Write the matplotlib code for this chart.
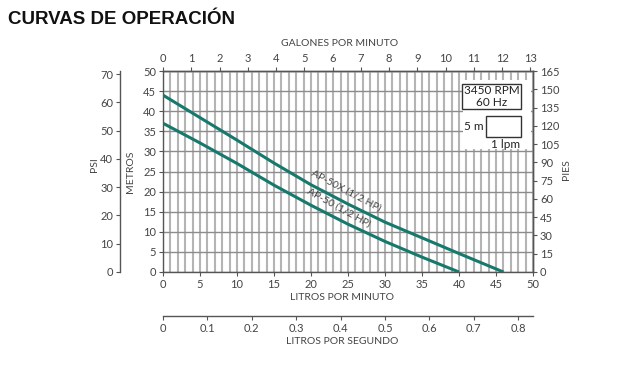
import matplotlib
matplotlib.use("Agg")
from matplotlib import pyplot as plt
from matplotlib.patches import Rectangle

# caudal en litros por minuto, carga en metros
lpm_50x = [0, 5, 10, 15, 20, 25, 30, 35, 40, 46]
m_50x = [44, 38.4, 32.8, 27.1, 21.7, 16.9, 12.4, 8.5, 4.6, 0]
lpm_50 = [0, 5, 10, 15, 20, 25, 30, 35, 40]
m_50 = [37, 32.1, 27.0, 21.6, 16.6, 11.9, 7.6, 3.7, 0]

gpm_ticks = list(range(0, 14))
ft_ticks = list(range(0, 166, 15))
psi_ticks = list(range(0, 71, 10))
lps_ticks = [0, 0.1, 0.2, 0.3, 0.4, 0.5, 0.6, 0.7, 0.8]

plt.rcParams['font.family'] = ['Lato', 'DejaVu Sans']
txt = '#444444'
spc = '#555555'
teal = '#17786c'

W, H = 629, 369
fig = plt.figure(figsize=(W / 100, H / 100), dpi=100)

def fx(px):
    return px / W

def fy(py):
    return 1 - py / H

ax = fig.add_axes([fx(163), fy(272), fx(533) - fx(163), fy(71) - fy(272)])
ax.set_xlim(0, 50)
ax.set_ylim(0, 50)
ax.set_xticks(range(0, 51, 5))
ax.set_xticks(range(0, 51), minor=True)
ax.set_yticks(range(0, 51, 5))
ax.set_axisbelow(True)
ax.grid(which='both', axis='x', color='#b4b4b4', lw=1.5)
ax.grid(which='major', axis='y', color='#8c8c8c', lw=1.0)
ax.tick_params(which='minor', length=0)
ax.tick_params(which='major', direction='out', length=3, color=spc, labelsize=8, labelcolor=txt, pad=2)
for s in ax.spines.values():
    s.set_color(spc)
    s.set_linewidth(1.0)

# zona blanca de la leyenda
ax.add_patch(Rectangle((40.5, 30.7), 9.2, 17.1, facecolor='white', edgecolor='none', zorder=1))
ax.add_patch(Rectangle((40.4, 40.6), 8.0, 6.2, facecolor='white', edgecolor='#333333', lw=1.0, zorder=2))
ax.text(44.4, 45.1, '3450 RPM', ha='center', va='center', fontsize=8.5, color='#222222', zorder=3)
ax.text(44.4, 42.2, '60 Hz', ha='center', va='center', fontsize=8.5, color='#222222', zorder=3)
ax.add_patch(Rectangle((43.6, 33.7), 4.8, 5.2, facecolor='white', edgecolor='#333333', lw=1.0, zorder=2))
ax.text(43.3, 36.3, '5 m', ha='right', va='center', fontsize=8.5, color='#222222', zorder=3)
ax.text(46.3, 31.8, '1 lpm', ha='center', va='center', fontsize=8.5, color='#222222', zorder=3)

ax.plot(lpm_50x, m_50x, color=teal, lw=2.2, zorder=4, solid_capstyle='butt')
ax.plot(lpm_50, m_50, color=teal, lw=2.2, zorder=4, solid_capstyle='butt')
ax.text(24.7, 20.2, 'AP-50X (1/2 HP)', rotation=-28, ha='center', va='center',
        fontsize=7.5, color=txt, zorder=5, rotation_mode='anchor')
ax.text(23.7, 15.9, 'AP-50 (1/2 HP)', rotation=-29, ha='center', va='center',
        fontsize=7.5, color=txt, zorder=5, rotation_mode='anchor')

# ejes secundarios
top = ax.secondary_xaxis('top', functions=(lambda x: x / 3.82, lambda g: g * 3.82))
top.set_xticks(gpm_ticks)
right = ax.secondary_yaxis('right', functions=(lambda m: m * 3.3, lambda f: f / 3.3))
right.set_yticks(ft_ticks)
psi = ax.secondary_yaxis(-0.116, functions=(lambda m: m / 0.703, lambda p: p * 0.703))
psi.set_yticks(psi_ticks)
lps = ax.secondary_xaxis(-0.219, functions=(lambda x: x / 60, lambda s: s * 60))
lps.set_xticks(lps_ticks)
lps.set_xticklabels(['0', '0.1', '0.2', '0.3', '0.4', '0.5', '0.6', '0.7', '0.8'])
for sa in (top, right, psi, lps):
    sa.tick_params(direction='out', length=3, color=spc, labelsize=8, labelcolor=txt, pad=2)
    for s in sa.spines.values():
        s.set_color(spc)
        s.set_linewidth(1.0)

fig.text(fx(8), fy(20), 'CURVAS DE OPERACIÓN', ha='left', va='center', fontsize=13.5,
         fontweight='bold', family='Liberation Sans', color='#111111')
fig.text(fx(340), fy(44), 'GALONES POR MINUTO', ha='center', va='center', fontsize=7.5, color=txt)
fig.text(fx(342), fy(298), 'LITROS POR MINUTO', ha='center', va='center', fontsize=7.5, color=txt)
fig.text(fx(342), fy(341), 'LITROS POR SEGUNDO', ha='center', va='center', fontsize=7.5, color=txt)
fig.text(fx(94), fy(165), 'PSI', ha='center', va='center', rotation=90, fontsize=7.5, color=txt)
fig.text(fx(131), fy(172), 'METROS', ha='center', va='center', rotation=90, fontsize=7.5, color=txt)
fig.text(fx(566), fy(170), 'PIES', ha='center', va='center', rotation=90, fontsize=7.5, color=txt)

fig.savefig('out.png', dpi=100)
